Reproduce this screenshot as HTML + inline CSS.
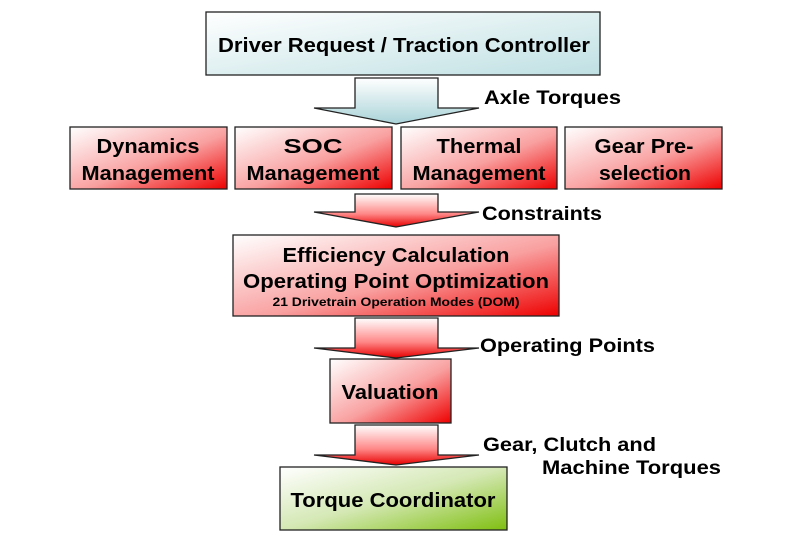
<!DOCTYPE html>
<html><head><meta charset="utf-8"><style>
html,body{margin:0;padding:0;background:#fff;}
svg{display:block;}
text{font-family:"Liberation Sans",Arial,sans-serif;font-weight:bold;fill:#000;}
</style></head><body>
<svg width="800" height="533" viewBox="0 0 800 533" xmlns="http://www.w3.org/2000/svg">
<defs>
<linearGradient id="red" x1="0" y1="0" x2="1" y2="1">
<stop offset="0" stop-color="#ffffff"/><stop offset="0.55" stop-color="#f9a0a0"/><stop offset="1" stop-color="#ee0000"/>
</linearGradient>
<linearGradient id="teal" x1="0" y1="0" x2="1" y2="1">
<stop offset="0" stop-color="#ffffff"/><stop offset="1" stop-color="#bfe0e3"/>
</linearGradient>
<linearGradient id="green" x1="0" y1="0" x2="1" y2="1">
<stop offset="0" stop-color="#ffffff"/><stop offset="0.5" stop-color="#d4e8b4"/><stop offset="1" stop-color="#7fbf10"/>
</linearGradient>
<linearGradient id="ared" x1="0" y1="0" x2="0" y2="1">
<stop offset="0" stop-color="#ffffff"/><stop offset="0.6" stop-color="#f88"/><stop offset="1" stop-color="#e80000"/>
</linearGradient>
<linearGradient id="ateal" x1="0" y1="0" x2="0" y2="1">
<stop offset="0" stop-color="#ffffff"/><stop offset="1" stop-color="#a9d3d8"/>
</linearGradient>
</defs>
<g stroke="#222" stroke-width="1.3">
<rect x="206" y="12" width="394" height="63" fill="url(#teal)"/>
<path d="M355 78 H438 V108 H479 L396 124 L314 108 H355 Z" fill="url(#ateal)"/>
<rect x="70" y="127" width="157" height="62" fill="url(#red)"/>
<rect x="235" y="127" width="157" height="62" fill="url(#red)"/>
<rect x="401" y="127" width="156" height="62" fill="url(#red)"/>
<rect x="565" y="127" width="157" height="62" fill="url(#red)"/>
<path d="M355 194 H438 V212 H479 L396 227 L314 212 H355 Z" fill="url(#ared)"/>
<rect x="233" y="235" width="326" height="81" fill="url(#red)"/>
<path d="M355 318 H438 V348 H479 L396 358 L314 348 H355 Z" fill="url(#ared)"/>
<rect x="330" y="359" width="121" height="64" fill="url(#red)"/>
<path d="M355 425 H438 V455 H479 L396 465 L314 455 H355 Z" fill="url(#ared)"/>
<rect x="280" y="467" width="227" height="63" fill="url(#green)"/>
</g>
<g text-anchor="middle" font-size="20">
<text x="404" y="52" textLength="372" lengthAdjust="spacingAndGlyphs">Driver Request / Traction Controller</text>
<text x="148" y="153" textLength="103" lengthAdjust="spacingAndGlyphs">Dynamics</text><text x="148" y="180" textLength="133" lengthAdjust="spacingAndGlyphs">Management</text>
<text x="313" y="153" textLength="59" lengthAdjust="spacingAndGlyphs">SOC</text><text x="313" y="180" textLength="133" lengthAdjust="spacingAndGlyphs">Management</text>
<text x="479" y="153" textLength="85" lengthAdjust="spacingAndGlyphs">Thermal</text><text x="479" y="180" textLength="133" lengthAdjust="spacingAndGlyphs">Management</text>
<text x="644" y="153" textLength="99" lengthAdjust="spacingAndGlyphs">Gear Pre-</text><text x="645" y="180" textLength="92" lengthAdjust="spacingAndGlyphs">selection</text>
<text x="396" y="262" textLength="227" lengthAdjust="spacingAndGlyphs">Efficiency Calculation</text>
<text x="396" y="288" textLength="306" lengthAdjust="spacingAndGlyphs">Operating Point Optimization</text>
<text x="396" y="306" font-size="12" textLength="247" lengthAdjust="spacingAndGlyphs">21 Drivetrain Operation Modes (DOM)</text>
<text x="390" y="399" textLength="97" lengthAdjust="spacingAndGlyphs">Valuation</text>
<text x="393" y="507" textLength="205" lengthAdjust="spacingAndGlyphs">Torque Coordinator</text>
</g>
<g font-size="19">
<text x="484" y="104" textLength="137" lengthAdjust="spacingAndGlyphs">Axle Torques</text>
<text x="482" y="220" textLength="120" lengthAdjust="spacingAndGlyphs">Constraints</text>
<text x="480" y="352" textLength="175" lengthAdjust="spacingAndGlyphs">Operating Points</text>
<text x="483" y="451" textLength="173" lengthAdjust="spacingAndGlyphs">Gear, Clutch and</text>
<text x="542" y="474" textLength="179" lengthAdjust="spacingAndGlyphs">Machine Torques</text>
</g>
</svg>
</body></html>
